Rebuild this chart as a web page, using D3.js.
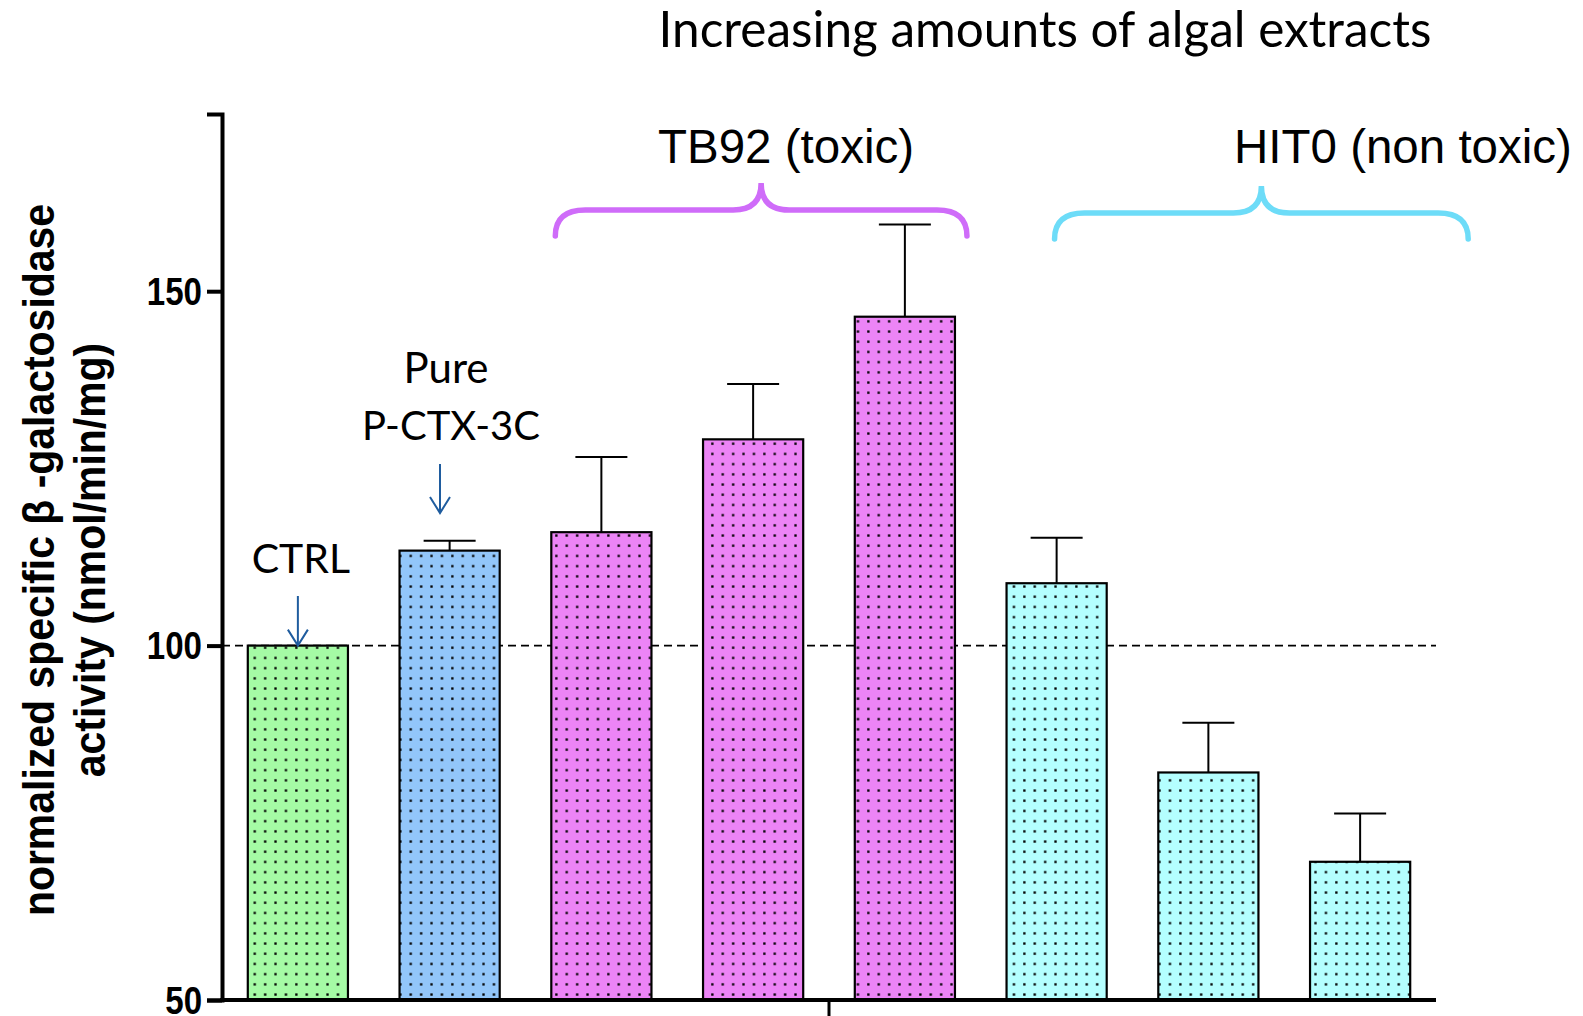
<!DOCTYPE html>
<html>
<head>
<meta charset="utf-8">
<script src="https://cdn.jsdelivr.net/npm/d3@7"></script>
<style>
  body { margin: 0; background: #fff; }
  svg { display: block; }
</style>
</head>
<body>
<div id="chart"></div>
<script>
// data
const categories = ["CTRL", "P-CTX-3C", "TB92 a", "TB92 b", "TB92 c", "HIT0 a", "HIT0 b", "HIT0 c"];
const values = [100, 113.4, 116.0, 129.1, 146.4, 108.8, 82.1, 69.5];
const errors = [0, 1.4, 10.6, 7.8, 13.0, 6.4, 7.0, 6.8];
const groups = ["ctrl", "pure", "tb92", "tb92", "tb92", "hit0", "hit0", "hit0"];
const yTicks = [50, 100, 150];

const fills = { ctrl: "#a5fba5", pure: "#92c6fa", tb92: "#ec84f6", hit0: "#b4ffff" };

const width = 1583, height = 1016;
const svg = d3.select("#chart").append("svg")
  .attr("width", width)
  .attr("height", height);

const x = d3.scaleBand()
  .domain(categories)
  .range([222, 1436])
  .paddingInner(0.34)
  .paddingOuter(0.17);

const y = d3.scaleLinear()
  .domain([50, 175])
  .range([1000, 114]);

// dotted fill patterns
const defs = svg.append("defs");
Object.entries(fills).forEach(([k, c]) => {
  const p = defs.append("pattern")
    .attr("id", "pat-" + k)
    .attr("patternUnits", "userSpaceOnUse")
    .attr("width", 10.4).attr("height", 10.2);
  p.append("rect").attr("width", 10.4).attr("height", 10.2).attr("fill", c);
  p.append("rect").attr("x", 4).attr("y", 4).attr("width", 2.3).attr("height", 2.3).attr("fill", "#000");
});

const labelFont = "Lato, 'Open Sans', sans-serif";
const arialFont = "'Liberation Sans', Arial, sans-serif";

// dashed reference line at 100
svg.append("line")
  .attr("x1", 222).attr("x2", 1436)
  .attr("y1", y(100)).attr("y2", y(100))
  .attr("stroke", "#000")
  .attr("stroke-width", 1.6)
  .attr("stroke-dasharray", "8,5");

// error bars (upper only)
const data = categories.map((c, i) => ({ c, v: values[i], e: errors[i], g: groups[i] }));
const eb = svg.append("g");
data.filter(d => d.e > 0).forEach(d => {
  const cx = x(d.c) + x.bandwidth() / 2;
  eb.append("line")
    .attr("x1", cx).attr("x2", cx)
    .attr("y1", y(d.v)).attr("y2", y(d.v + d.e))
    .attr("stroke", "#000").attr("stroke-width", 2);
  eb.append("line")
    .attr("x1", cx - 26).attr("x2", cx + 26)
    .attr("y1", y(d.v + d.e)).attr("y2", y(d.v + d.e))
    .attr("stroke", "#000").attr("stroke-width", 2);
});

// bars
svg.append("g")
  .selectAll("rect")
  .data(data)
  .join("rect")
  .attr("x", d => x(d.c))
  .attr("y", d => y(d.v))
  .attr("width", x.bandwidth())
  .attr("height", d => y(50) - y(d.v))
  .attr("fill", d => "url(#pat-" + d.g + ")")
  .attr("stroke", "#000")
  .attr("stroke-width", 2.2);

// axes
const yAxis = svg.append("g")
  .attr("transform", "translate(222,0)")
  .call(d3.axisLeft(y).tickValues(yTicks).tickSize(15).tickSizeOuter(15).tickPadding(4));
yAxis.select(".domain").attr("stroke-width", 4);
yAxis.selectAll(".tick line").attr("stroke-width", 4);
// condensed bold labels, like Arial Narrow
yAxis.selectAll(".tick text")
  .attr("font-family", arialFont)
  .attr("font-weight", "bold")
  .attr("font-size", 38)
  .attr("fill", "#000")
  .attr("x", -20 / 0.87)
  .attr("dy", "0.35em")
  .attr("transform", "scale(0.87,1)");

const xAxis = svg.append("g")
  .attr("transform", "translate(0," + y(50) + ")");
xAxis.append("line")
  .attr("x1", 220).attr("x2", 1436)
  .attr("stroke", "#000").attr("stroke-width", 4);
xAxis.append("line")
  .attr("x1", (222 + 1436) / 2).attr("x2", (222 + 1436) / 2)
  .attr("y1", 0).attr("y2", 18)
  .attr("stroke", "#000").attr("stroke-width", 3);

// y axis title
const yt = svg.append("text")
  .attr("transform", "translate(54,560) rotate(-90) scale(0.91,1)")
  .attr("text-anchor", "middle")
  .attr("font-family", arialFont)
  .attr("font-weight", "bold")
  .attr("font-size", 45)
  .attr("fill", "#000");
yt.append("tspan").attr("x", 0).attr("y", 0).text("normalized specific  β -galactosidase");
yt.append("tspan").attr("x", 0).attr("y", 51).text("activity (nmol/min/mg)");

// title
svg.append("text")
  .attr("x", 1045).attr("y", 47)
  .attr("text-anchor", "middle")
  .attr("font-family", labelFont)
  .attr("font-size", 49.5)
  .attr("fill", "#000")
  .text("Increasing amounts of algal extracts");

// braces
function brace(x0, x1, yTop, yMid, yBot, color) {
  const m = (x0 + x1) / 2, r = 30, r2 = 28;
  const p = d3.path();
  p.moveTo(x0, yBot);
  p.quadraticCurveTo(x0, yMid, x0 + r, yMid);
  p.lineTo(m - r2, yMid);
  p.quadraticCurveTo(m, yMid, m, yTop);
  p.quadraticCurveTo(m, yMid, m + r2, yMid);
  p.lineTo(x1 - r, yMid);
  p.quadraticCurveTo(x1, yMid, x1, yBot);
  svg.append("path")
    .attr("d", p.toString())
    .attr("fill", "none")
    .attr("stroke", color)
    .attr("stroke-width", 5.5)
    .attr("stroke-linecap", "round");
}
brace(x("TB92 a") + 4, x("TB92 c") + x.bandwidth() + 12, 183, 210, 236, "#cf6cf9");
brace(x("HIT0 a") + 48, x("HIT0 c") + x.bandwidth() + 58, 186, 213, 239, "#6ddcf8");

svg.append("text")
  .attr("x", 786).attr("y", 163)
  .attr("text-anchor", "middle")
  .attr("font-family", arialFont)
  .attr("font-size", 47.5)
  .attr("fill", "#000")
  .text("TB92 (toxic)");
svg.append("text")
  .attr("x", 1234).attr("y", 163)
  .attr("font-family", arialFont)
  .attr("font-size", 47.5)
  .attr("fill", "#000")
  .text("HIT0 (non toxic)");

// annotations with arrows
const arrowColor = "#1f5c9e";
function arrow(cx, y0, y1) {
  svg.append("line")
    .attr("x1", cx).attr("x2", cx).attr("y1", y0).attr("y2", y1)
    .attr("stroke", arrowColor).attr("stroke-width", 2);
  svg.append("path")
    .attr("d", `M${cx - 10},${y1 - 16} L${cx},${y1} L${cx + 10},${y1 - 16}`)
    .attr("fill", "none").attr("stroke", arrowColor).attr("stroke-width", 2);
}
const ctrlX = x("CTRL") + x.bandwidth() / 2;
arrow(ctrlX, 596, y(100));
svg.append("text")
  .attr("x", ctrlX + 3).attr("y", 573)
  .attr("text-anchor", "middle")
  .attr("font-family", labelFont).attr("font-size", 41).attr("fill", "#000")
  .text("CTRL");

arrow(440, 464, 513);
svg.append("text")
  .attr("x", 446).attr("y", 383)
  .attr("text-anchor", "middle")
  .attr("font-family", labelFont).attr("font-size", 42).attr("fill", "#000")
  .text("Pure");
svg.append("text")
  .attr("x", 451).attr("y", 440)
  .attr("text-anchor", "middle")
  .attr("font-family", labelFont).attr("font-size", 40).attr("fill", "#000")
  .text("P-CTX-3C");
</script>
</body>
</html>
